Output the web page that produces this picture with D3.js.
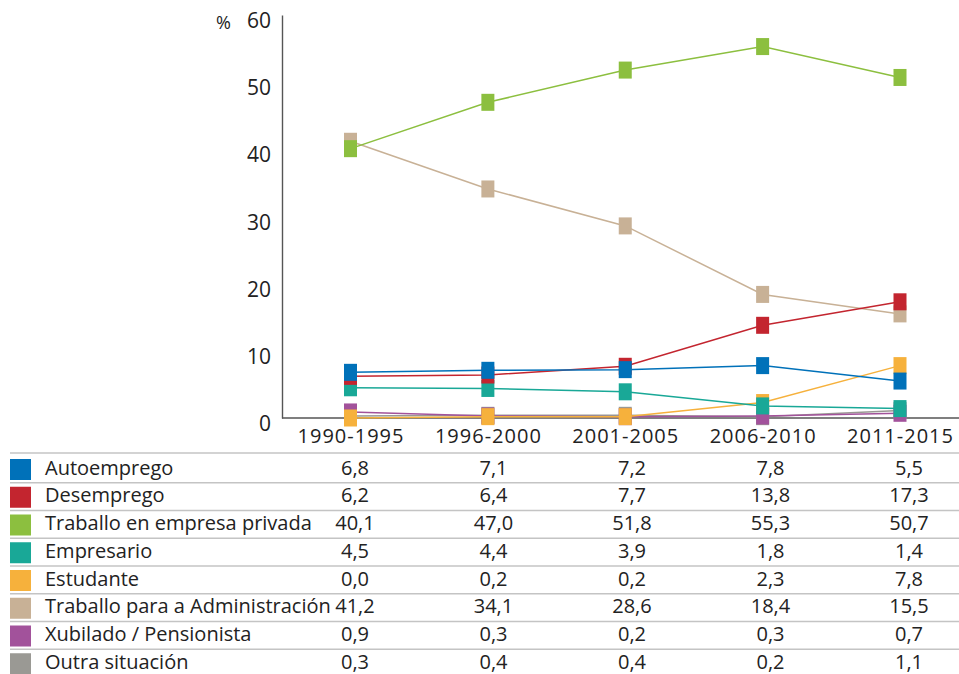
<!DOCTYPE html>
<html>
<head>
<meta charset="utf-8">
<script src="https://cdnjs.cloudflare.com/ajax/libs/d3/7.8.5/d3.min.js"></script>
<style>
	body { margin: 0; background: #fff; }
	svg { display: block; font-family: "Open Sans", "Noto Sans", sans-serif; }
	svg text { font-family: "Open Sans", "Noto Sans", sans-serif; }
</style>
</head>
<body>
<svg id="chart" width="959" height="674"></svg>
<script>
// periods (x categories)
var periods = ["1990-1995", "1996-2000", "2001-2005", "2006-2010", "2011-2015"];

// series names, legend order
var seriesNames = ["Autoemprego", "Desemprego", "Traballo en empresa privada", "Empresario",
	"Estudante", "Traballo para a Administración", "Xubilado / Pensionista", "Outra situación"];

var seriesColors = ["#0071b9", "#c3252f", "#8cbf3f", "#19a897", "#f6b13c", "#c8b196", "#a2529b", "#9a9994"];

// values, %
var autoemprego = [6.8, 7.1, 7.2, 7.8, 5.5];
var desemprego = [6.2, 6.4, 7.7, 13.8, 17.3];
var privada = [40.1, 47.0, 51.8, 55.3, 50.7];
var empresario = [4.5, 4.4, 3.9, 1.8, 1.4];
var estudante = [0.0, 0.2, 0.2, 2.3, 7.8];
var administracion = [41.2, 34.1, 28.6, 18.4, 15.5];
var xubilado = [0.9, 0.3, 0.2, 0.3, 0.7];
var outra = [0.3, 0.4, 0.4, 0.2, 1.1];

var yTicks = [0, 10, 20, 30, 40, 50, 60];

var seriesValues = [autoemprego, desemprego, privada, empresario, estudante, administracion, xubilado, outra];

var series = seriesNames.map(function(n, i) {
	return { name: n, color: seriesColors[i], values: seriesValues[i] };
});

var fmt = function(v) { return d3.format(".1f")(v).replace(".", ","); };

var svg = d3.select("#chart");

//scales
var x = d3.scalePoint().domain(periods).range([350.5, 900]);
var y = d3.scaleLinear().domain([0, 60]).range([418, 15]);
var col = d3.scalePoint().domain(periods).range([355, 909]);
var row = d3.scaleBand().domain(seriesNames).range([455, 677]);

//y axis
var yAxis = svg.append("g").attr("transform", "translate(282,0)")
	.call(d3.axisLeft(y).tickValues(yTicks).tickSize(0).tickPadding(11).tickFormat(d3.format("d")));
yAxis.attr("font-family", null);
yAxis.select(".domain").attr("stroke", "#555").attr("stroke-width", 1.4);
yAxis.selectAll("text").attr("fill", "#222").style("font-size", "21px").attr("dy", "0.6em");

svg.append("text").attr("x", 231).attr("y", y(60) + 14)
	.attr("text-anchor", "end").attr("fill", "#222").style("font-size", "18px").text("%");

//x axis
var xAxis = svg.append("g").attr("transform", "translate(0,418)")
	.call(d3.axisBottom(x).tickSize(0).tickPadding(11));
xAxis.attr("font-family", null);
xAxis.select(".domain").attr("d", "M282,0H959").attr("stroke", "#555").attr("stroke-width", 1.4);
xAxis.selectAll("text").attr("fill", "#222").style("font-size", "20px").style("letter-spacing", "1px");

//series lines and markers, drawn in reverse legend order
var line = d3.line().x(function(d, i) { return x(periods[i]); }).y(function(d) { return y(d); });
var g = svg.append("g");
series.slice().reverse().forEach(function(s) {
	var sg = g.append("g");
	sg.append("path").attr("d", line(s.values))
		.attr("fill", "none").attr("stroke", s.color).attr("stroke-width", 1.5);
	sg.selectAll("rect").data(s.values).enter().append("rect")
		.attr("x", function(d, i) { return x(periods[i]) - 6.5; })
		.attr("y", function(d) { return y(d) - 8.5; })
		.attr("width", 13).attr("height", 17)
		.attr("fill", s.color);
});

//table
var tbl = svg.append("g");
tbl.append("line").attr("x1", 10).attr("x2", 959).attr("y1", 453).attr("y2", 453)
	.attr("stroke", "#c4c4c4").attr("stroke-width", 1.5);

var rows = tbl.selectAll("g.row").data(series).enter().append("g").attr("class", "row")
	.attr("transform", function(d) { return "translate(0," + row(d.name) + ")"; });

rows.append("line").attr("x1", 10).attr("x2", 959)
	.attr("y1", row.bandwidth()).attr("y2", row.bandwidth())
	.attr("stroke", "#c4c4c4").attr("stroke-width", 1.5);

rows.append("rect").attr("x", 10).attr("y", 4).attr("width", 21).attr("height", 21)
	.attr("fill", function(d) { return d.color; });

rows.append("text").attr("x", 45).attr("y", 19.5).attr("fill", "#222")
	.style("font-size", "20px").text(function(d) { return d.name; });

rows.selectAll("text.val").data(function(d) { return d.values; }).enter().append("text")
	.attr("class", "val")
	.attr("x", function(d, i) { return col(periods[i]); }).attr("y", 19.5)
	.attr("text-anchor", "middle").attr("fill", "#222").style("font-size", "20px")
	.text(fmt);
</script>
</body>
</html>
